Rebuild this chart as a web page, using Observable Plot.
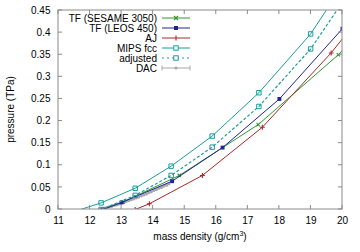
<!DOCTYPE html>
<html><head><meta charset="utf-8">
<script src="https://cdn.jsdelivr.net/npm/d3@7"></script>
<script src="https://cdn.jsdelivr.net/npm/@observablehq/plot@0.6"></script>
<style>body{margin:0;background:#fff}svg{display:block}</style>
</head><body><div id="chart"></div>
<script>
// ---- data ----
const xTicks = [11, 12, 13, 14, 15, 16, 17, 18, 19, 20];
const yTicks = [0, 0.05, 0.1, 0.15, 0.2, 0.25, 0.3, 0.35, 0.4, 0.45];
const seriesNames = ["TF (SESAME 3050)", "TF (LEOS 450)", "AJ", "MIPS fcc", "adjusted", "DAC"];

const sesameRho = [12.4, 13.05, 14.83, 17.33, 19.87, 20.6];
const sesameP   = [0.0, 0.017, 0.077, 0.192, 0.350, 0.406];

const leosRho = [12.4, 13.0, 14.6, 16.2, 18.0, 20.0];
const leosP   = [0.0, 0.016, 0.064, 0.140, 0.250, 0.409];

const ajRho = [13.43, 13.88, 15.56, 17.46, 19.64, 20.6];
const ajP   = [0.0, 0.013, 0.077, 0.186, 0.354, 0.44];

const mipsRho = [11.7, 12.35, 13.43, 14.57, 15.87, 17.35, 18.99, 20.6];
const mipsP   = [0.0, 0.015, 0.048, 0.098, 0.166, 0.264, 0.397, 0.571];

const adjRho = [12.35, 13.43, 14.57, 15.87, 17.35, 18.99, 20.6];
const adjP   = [0.0, 0.032, 0.077, 0.141, 0.233, 0.363, 0.532];

const dacRho = [12.30, 12.38, 12.45, 12.52, 12.60, 12.68, 12.75, 12.83, 12.90, 12.98,
                13.06, 13.14, 13.22, 13.30, 13.38, 13.46, 13.54, 13.62, 13.70, 13.78,
                13.86, 13.94, 14.02, 14.10, 14.18, 14.26, 14.34, 14.42, 14.50];
const dacP   = [0.000, 0.002, 0.003, 0.004, 0.006, 0.007, 0.009, 0.010, 0.012, 0.014,
                0.016, 0.018, 0.020, 0.022, 0.024, 0.026, 0.028, 0.031, 0.033, 0.035,
                0.038, 0.040, 0.043, 0.045, 0.048, 0.050, 0.053, 0.055, 0.058];

// ---- styles ----
const colors = ["#2a9a2a", "#22229a", "#a82828", "#1c9c9c", "#1c9c9c", "#a8a8a8"];
const font = "'Liberation Sans', Arial, sans-serif";

const toRows = (xs, ys) => xs.map((x, i) => ({x, y: ys[i]}));
const sesame = toRows(sesameRho, sesameP);
const leos = toRows(leosRho, leosP);
const aj = toRows(ajRho, ajP);
const mips = toRows(mipsRho, mipsP);
const adj = toRows(adjRho, adjP);
const dac = toRows(dacRho, dacP);
const inside = d => d.x <= 20.001 && d.y <= 0.45;

const W = 360, H = 252, mL = 58, mR = 18, mT = 10, mB = 43;

const plot = Plot.plot({
  width: W, height: H,
  marginLeft: mL, marginRight: mR, marginTop: mT, marginBottom: mB,
  style: {fontFamily: font, fontSize: "10px", color: "#000", background: "#fff"},
  x: {domain: [11, 20], label: null},
  y: {domain: [0, 0.45], label: null},
  marks: [
    Plot.axisX(xTicks, {tickSize: 0, tickPadding: 7, tickFormat: d => String(d), fontSize: 10}),
    Plot.axisY(yTicks, {tickSize: 0, tickPadding: 8, tickFormat: d => String(+d.toFixed(2)), fontSize: 10}),
    // DAC
    Plot.line(dac, {x: "x", y: "y", stroke: colors[5], strokeWidth: 1, clip: true}),
    Plot.dot(dac, {x: "x", y: "y", r: 1.6, fill: colors[5], stroke: "none", clip: true}),
    // TF SESAME
    Plot.line(sesame, {x: "x", y: "y", stroke: colors[0], strokeWidth: 1, clip: true}),
    Plot.dot(sesame.filter(inside), {x: "x", y: "y", symbol: "times", r: 1.7, stroke: colors[0], strokeWidth: 1.1, clip: true}),
    // TF LEOS
    Plot.line(leos, {x: "x", y: "y", stroke: colors[1], strokeWidth: 1, clip: true}),
    Plot.dot(leos.filter(inside), {x: "x", y: "y", symbol: "square", r: 2.2, fill: colors[1], stroke: "none", clip: true}),
    // AJ
    Plot.line(aj, {x: "x", y: "y", stroke: colors[2], strokeWidth: 1, clip: true}),
    Plot.dot(aj.filter(inside), {x: "x", y: "y", symbol: "plus", r: 1.7, stroke: colors[2], strokeWidth: 1.1, clip: true}),
    // MIPS fcc
    Plot.line(mips, {x: "x", y: "y", stroke: colors[3], strokeWidth: 1, clip: true}),
    Plot.dot(mips.filter(d => inside(d) && d.y > 0), {x: "x", y: "y", symbol: "square", r: 2.5, fill: "none", stroke: colors[3], strokeWidth: 1, clip: true}),
    // adjusted
    Plot.line(adj, {x: "x", y: "y", stroke: colors[4], strokeWidth: 1.2, strokeDasharray: "2,3", clip: true}),
    Plot.dot(adj.filter(inside), {x: "x", y: "y", symbol: "square", r: 2.5, fill: "none", stroke: colors[4], strokeWidth: 1, clip: true})
  ]
});

document.getElementById("chart").appendChild(plot);

// ---- frame, inward ticks, labels, legend ----
const sx = plot.scale("x"), sy = plot.scale("y");
const svg = d3.select(plot);
const x0 = sx.apply(11), x1 = sx.apply(20), y0 = sy.apply(0), y1 = sy.apply(0.45);
const g = svg.append("g").attr("fill", "none").attr("stroke", "#8a8a8a").attr("stroke-width", 1);
g.append("rect").attr("x", x0).attr("y", y1).attr("width", x1 - x0).attr("height", y0 - y1);
const tl = 4;
xTicks.forEach(t => {
  const x = sx.apply(t);
  g.append("line").attr("x1", x).attr("x2", x).attr("y1", y0).attr("y2", y0 - tl);
  g.append("line").attr("x1", x).attr("x2", x).attr("y1", y1).attr("y2", y1 + tl);
});
yTicks.forEach(t => {
  const y = sy.apply(t);
  g.append("line").attr("x1", x0).attr("x2", x0 + tl).attr("y1", y).attr("y2", y);
  g.append("line").attr("x1", x1).attr("x2", x1 - tl).attr("y1", y).attr("y2", y);
});

const xl = svg.append("text").attr("x", (x0 + x1) / 2).attr("y", 240)
  .attr("text-anchor", "middle").attr("font-family", font).attr("font-size", 10).attr("fill", "#000");
xl.append("tspan").text("mass density (g/cm");
xl.append("tspan").attr("font-size", 7).attr("dy", -4).text("3");
xl.append("tspan").attr("dy", 4).text(")");

svg.append("text").attr("transform", `translate(14,${(y0 + y1) / 2}) rotate(-90)`)
  .attr("text-anchor", "middle").attr("font-family", font).attr("font-size", 10).attr("fill", "#000")
  .text("pressure (TPa)");

// legend
const lg = svg.append("g");
seriesNames.forEach((name, i) => {
  const y = 18 + 10 * i;
  lg.append("text").attr("x", 157).attr("y", y).attr("dy", "0.35em").attr("text-anchor", "end")
    .attr("font-family", font).attr("font-size", 10).attr("fill", "#000").text(name);
  const ln = lg.append("line").attr("x1", 162).attr("x2", 190).attr("y1", y).attr("y2", y)
    .attr("stroke", colors[i]).attr("stroke-width", i === 4 ? 1.2 : 1);
  if (i === 4) ln.attr("stroke-dasharray", "2,3");
  const cx = 176;
  if (i === 0) {
    lg.append("path").attr("d", `M${cx-2},${y-2}L${cx+2},${y+2}M${cx-2},${y+2}L${cx+2},${y-2}`).attr("stroke", colors[0]).attr("stroke-width", 1.1);
  } else if (i === 1) {
    lg.append("rect").attr("x", cx - 2).attr("y", y - 2).attr("width", 4).attr("height", 4).attr("fill", colors[1]);
  } else if (i === 2) {
    lg.append("path").attr("d", `M${cx},${y-2.5}V${y+2.5}`).attr("stroke", colors[2]).attr("stroke-width", 1.1);
  } else if (i === 3 || i === 4) {
    lg.append("rect").attr("x", cx - 2.2).attr("y", y - 2.2).attr("width", 4.4).attr("height", 4.4).attr("fill", "#fff").attr("stroke", colors[i]);
  } else {
    lg.append("path").attr("d", `M162,${y-2.5}V${y+2.5}M190,${y-2.5}V${y+2.5}`).attr("stroke", colors[5]);
    lg.append("circle").attr("cx", cx).attr("cy", y).attr("r", 1.6).attr("fill", colors[5]);
  }
});
</script>
</body></html>
